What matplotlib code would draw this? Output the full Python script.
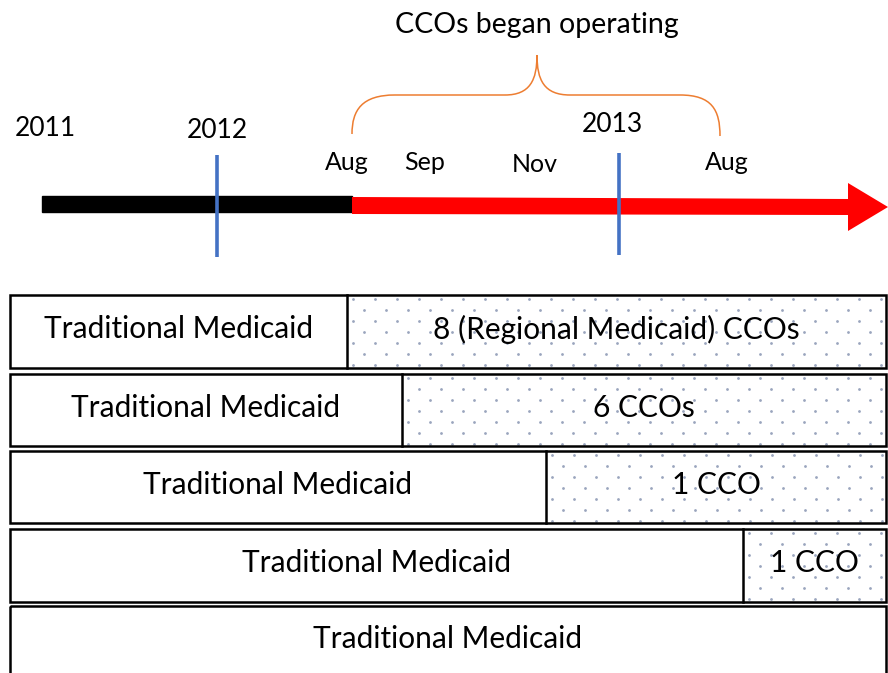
import numpy as np
import matplotlib
matplotlib.use("Agg")
import matplotlib.pyplot as plt
from matplotlib.patches import Rectangle, Polygon, PathPatch
from matplotlib.path import Path

# ---- data ----
left_labels = ["Traditional Medicaid"] * 5
right_labels = ["8 (Regional Medicaid) CCOs", "6 CCOs", "1 CCO", "1 CCO", None]
split_x = [347, 402, 546, 743, None]          # where traditional Medicaid ends (timeline px)
year_labels = ["2011", "2012", "2013"]
year_x = [45, 217, 612]
year_y = [128, 131, 124]
month_labels = ["Aug", "Sep", "Nov", "Aug"]
month_x = [347, 425, 535, 727]
month_y = [162, 162, 165, 162]
year_lines_x = [217, 619]
title_text = "CCOs began operating"

FONT = "Lato"
plt.rcParams['font.family'] = [FONT, 'DejaVu Sans']

fig = plt.figure(figsize=(8.88, 6.73), dpi=100)
ax = fig.add_axes([0, 0, 1, 1])
ax.set_xlim(0, 888)
ax.set_ylim(673, 0)
ax.axis('off')

# ---- timeline ----
ax.add_patch(Rectangle((42, 196), 310, 16, color='black', zorder=2))
arrow = Polygon([(352, 197), (848, 199), (848, 183), (888, 207), (848, 231),
                 (848, 215), (352, 214)], closed=True, color='#FF0000', zorder=2, lw=0)
ax.add_patch(arrow)
for xl, y0, y1 in zip(year_lines_x, [155, 153], [257, 255]):
    ax.plot([xl, xl], [y0, y1], color='#4472C4', lw=2.6, zorder=3, solid_capstyle='butt')

for t, x, y in zip(year_labels, year_x, year_y):
    ax.text(x, y, t, ha='center', va='center', fontsize=19)
for t, x, y in zip(month_labels, month_x, month_y):
    ax.text(x, y, t, ha='center', va='center', fontsize=18)
ax.text(537, 25, title_text, ha='center', va='center', fontsize=20.5)

# brace
verts = [(352, 134), (352, 110), (362, 95), (395, 95),
         (505, 95),
         (530, 95), (537, 80), (537, 55),
         (537, 80), (544, 95), (570, 95),
         (680, 95),
         (712, 95), (720, 110), (720, 136)]
codes = [Path.MOVETO, Path.CURVE4, Path.CURVE4, Path.CURVE4,
         Path.LINETO,
         Path.CURVE4, Path.CURVE4, Path.CURVE4,
         Path.CURVE4, Path.CURVE4, Path.CURVE4,
         Path.LINETO,
         Path.CURVE4, Path.CURVE4, Path.CURVE4]
ax.add_patch(PathPatch(Path(verts, codes), fill=False, edgecolor='#ED7D31', lw=1.1))

# ---- rows ----
row_top = [295, 374, 451, 529, 606]
row_bot = [368, 446, 523, 602, 676]
X0, X1 = 10, 886
FS = 21.5

for i in range(5):
    y0, y1 = row_top[i], row_bot[i]
    h = y1 - y0
    ax.add_patch(Rectangle((X0, y0), X1 - X0, h, fill=False, edgecolor='black', lw=1.8, zorder=4))
    sx = split_x[i]
    if sx is not None:
        ax.plot([sx, sx], [y0, y1], color='black', lw=1.8, zorder=4)
        # dotted fill
        clip = Rectangle((sx, y0), X1 - sx, h, transform=ax.transData, fill=False, lw=0)
        ax.add_patch(clip)
        xs, ys = [], []
        for k, yy in enumerate(np.arange(y0 + 4, y1, 11)):
            off = 0 if k % 2 == 0 else 11
            for xx in np.arange(sx + 6 + off, X1, 22):
                xs.append(xx); ys.append(yy)
        sc = ax.scatter(xs, ys, s=4, color='#9AA5BD', lw=0, zorder=3)
        sc.set_clip_path(clip)
        ax.text((X0 + sx) / 2, (y0 + y1) / 2 - 2, left_labels[i], ha='center', va='center', fontsize=FS, zorder=5)
        ax.text((sx + X1) / 2, (y0 + y1) / 2 - 2, right_labels[i], ha='center', va='center', fontsize=FS, zorder=5)
    else:
        ax.text((X0 + X1) / 2, (y0 + y1) / 2 - 2, left_labels[i], ha='center', va='center', fontsize=FS, zorder=5)

fig.savefig("out.png", dpi=100)
